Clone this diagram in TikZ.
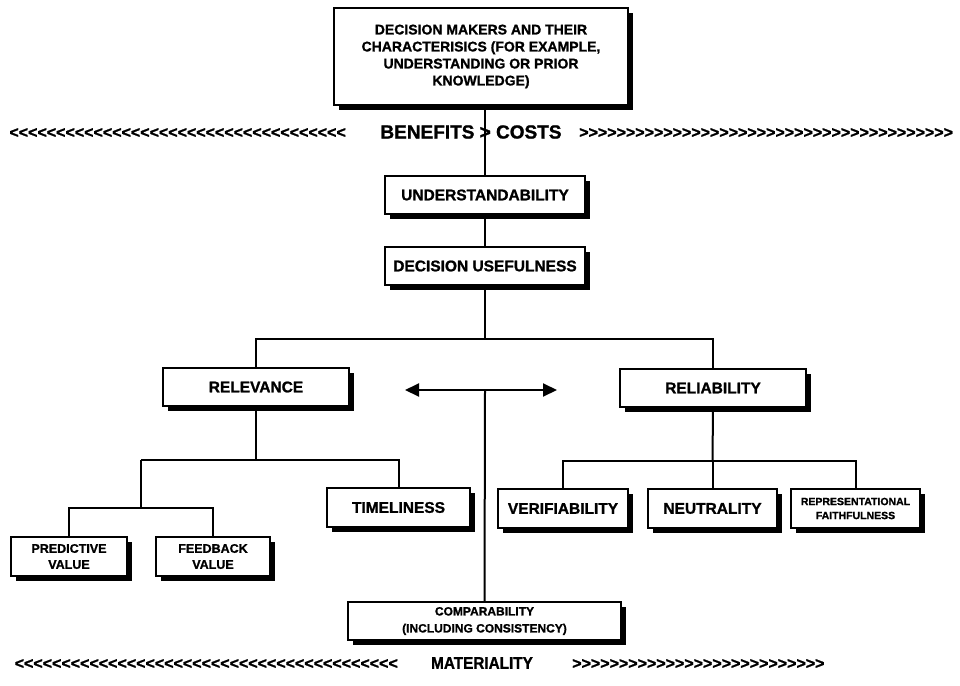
\documentclass[tikz,border=0pt]{standalone}
\usepackage{fontspec}
\usepackage{graphicx}
\setmainfont{Liberation Sans}[BoldFeatures={FakeBold=1.2}]
\newfontfamily\chevf{Liberation Sans}[Ligatures=TeXOff,BoldFeatures={FakeBold=1.2}]
\usetikzlibrary{arrows.meta,shadows}
\newcommand\fs[2]{\fontsize{#1}{#2}\selectfont\bfseries}
\def\tenL{<<<<<<<<<<}
\def\tenR{>>>>>>>>>>}
\begin{document}
\begin{tikzpicture}[x=1pt,y=-1pt,
  conn/.style={line width=2pt},
  box/.style={draw,line width=1.4pt,fill=white,rectangle,inner sep=0pt,align=center,
     general shadow={fill=black,shadow xshift=5pt,shadow yshift=-5pt}},
  big/.style={font=\fs{15.5}{18}},
  small/.style={font=\fs{12.5}{16}},
  chev/.style={font=\chevf\fs{16}{18},inner sep=0pt}
]
\useasboundingbox (0,0) rectangle (960,685);

% boxes
\node[box,minimum width=294pt,minimum height=97pt,font=\fs{14}{17}] (top) at (481,56.5)
  {DECISION MAKERS AND THEIR\\CHARACTERISICS (FOR EXAMPLE,\\UNDERSTANDING OR PRIOR\\KNOWLEDGE)};
\node[box,big,minimum width=200pt,minimum height=38pt] (und) at (485,195) {UNDERSTANDABILITY};
\node[box,big,minimum width=200pt,minimum height=38pt] (du) at (485,266) {DECISION USEFULNESS};
\node[box,big,minimum width=186pt,minimum height=38pt] (rel) at (256,387) {RELEVANCE};
\node[box,big,minimum width=186pt,minimum height=38pt] (rlb) at (713,388) {RELIABILITY};
\node[box,big,minimum width=143pt,minimum height=39pt] (time) at (398.5,507.5) {TIMELINESS};
\node[box,small,minimum width=116pt,minimum height=39pt] (pred) at (69,556.5) {PREDICTIVE\\VALUE};
\node[box,small,minimum width=114pt,minimum height=39pt] (feed) at (213,556.5) {FEEDBACK\\VALUE};
\node[box,big,minimum width=130pt,minimum height=39pt] (ver) at (563,508.5) {VERIFIABILITY};
\node[box,big,minimum width=129pt,minimum height=39pt] (neu) at (712.5,508.5) {NEUTRALITY};
\node[box,font=\fs{10.5}{14},minimum width=129pt,minimum height=39pt] (rf) at (855.5,508.5)
  {REPRESENTATIONAL\\FAITHFULNESS};
\node[box,font=\fs{12}{17},minimum width=273pt,minimum height=38pt] (comp) at (484.5,621)
  {COMPARABILITY\\(INCLUDING CONSISTENCY)};

% chevron rows
\node[chev,anchor=east] (lc1) at (346,133) {\tenL\tenL\tenL<<<<<<};
\node[font=\fs{19}{21},inner sep=0pt] (bc) at (471,132) {BENEFITS > COSTS};
\node[chev,anchor=west] (rc1) at (579,133) {\tenR\tenR\tenR\tenR};
\node[chev,anchor=east] (lc2) at (398,664) {\tenL\tenL\tenL\tenL<};
\node[font=\fs{17}{19},inner sep=0pt] (mat) at (482,663) {\scalebox{0.9}[1]{MATERIALITY}};
\node[chev,anchor=west] (rc2) at (572,664) {\tenR\tenR>>>>>>>};

% connectors
\draw[conn] (und.north) -- (und.north |- top.south);
\draw[conn] (und.south) -- (du.north);
\coordinate (j1) at (485,339);
\draw[conn] (du.south) -- (j1);
\draw[conn] (rel.north) |- (j1) -| (rlb.north);

\coordinate (al) at (405,390);
\coordinate (ar) at (557,390);
\coordinate (am) at (485,390);
\draw[conn,{Triangle[length=14pt,width=13pt]}-{Triangle[length=14pt,width=13pt]}] (al) -- (ar);
\draw[conn] (am) -- (comp.north);

\coordinate (h1) at (141,460);
\coordinate (h2) at (141,508);
\draw[conn] (rel.south) -- (rel.south |- h1);
\draw[conn] (h1) -| (time.north);
\draw[conn] (h1) -- (h2);
\draw[conn] (pred.north) |- (h2) -| (feed.north);

\coordinate (h3) at (712.5,461);
\draw[conn] (rlb.south) -- (h3);
\draw[conn] (ver.north) |- (h3) -| (rf.north);
\draw[conn] (h3) -- (neu.north);
\end{tikzpicture}
\end{document}
